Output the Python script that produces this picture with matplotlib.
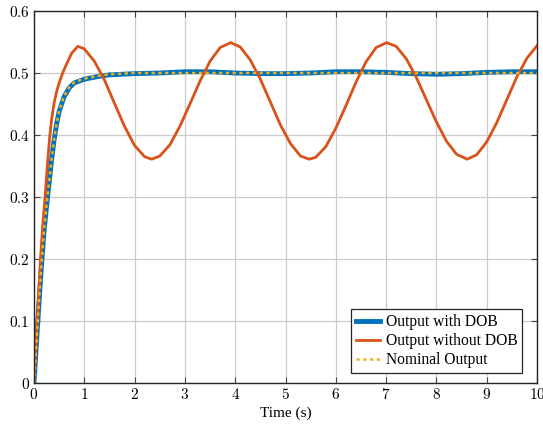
import numpy as np
import matplotlib.pyplot as plt
from matplotlib.ticker import FuncFormatter

plt.rcParams['font.family'] = 'Liberation Serif'
plt.rcParams['mathtext.fontset'] = 'cm'

# Output with DOB
t_dob = [0, 0.05, 0.1, 0.15, 0.2, 0.25, 0.3, 0.35, 0.4, 0.45, 0.5, 0.6, 0.7,
         0.8, 1.0, 1.25, 1.5, 2.0, 2.5, 3.0, 3.5, 4.0, 4.5, 5.0, 5.5, 6.0, 6.5,
         7.0, 7.5, 8.0, 8.5, 9.0, 9.5, 10.0]
y_dob = [0, 0.065, 0.13, 0.19, 0.245, 0.285, 0.322, 0.36, 0.392, 0.418, 0.438,
         0.462, 0.476, 0.484, 0.49, 0.494, 0.497, 0.499, 0.5, 0.502, 0.502,
         0.5, 0.499, 0.499, 0.5, 0.502, 0.502, 0.501, 0.499, 0.498, 0.499,
         0.501, 0.502, 0.502]

# Output without DOB
t_no = [0, 0.066, 0.13, 0.17, 0.22, 0.27, 0.31, 0.35, 0.4, 0.45, 0.5, 0.57,
        0.65, 0.75, 0.87, 1.0, 1.2, 1.4, 1.6, 1.8, 2.0, 2.2, 2.34, 2.5, 2.7,
        2.9, 3.1, 3.3, 3.5, 3.7, 3.91, 4.1, 4.3, 4.5, 4.7, 4.9, 5.1, 5.3,
        5.47, 5.6, 5.8, 6.0, 6.2, 6.4, 6.6, 6.8, 7.01, 7.2, 7.4, 7.6, 7.8,
        8.0, 8.2, 8.4, 8.61, 8.8, 9.0, 9.2, 9.4, 9.6, 9.8, 10.0]
y_no = [0, 0.1, 0.2, 0.25, 0.3, 0.355, 0.395, 0.425, 0.452, 0.47, 0.484, 0.5,
        0.515, 0.532, 0.543, 0.539, 0.519, 0.489, 0.451, 0.414, 0.383, 0.365,
        0.361, 0.366, 0.384, 0.414, 0.45, 0.487, 0.519, 0.541, 0.549, 0.542,
        0.521, 0.49, 0.453, 0.416, 0.386, 0.366, 0.361, 0.364, 0.381, 0.411,
        0.447, 0.485, 0.518, 0.541, 0.549, 0.543, 0.523, 0.493, 0.457, 0.421,
        0.39, 0.369, 0.361, 0.368, 0.389, 0.42, 0.457, 0.494, 0.524, 0.544]

# Nominal output
t_nom = [0, 0.05, 0.1, 0.15, 0.2, 0.25, 0.3, 0.35, 0.4, 0.45, 0.5, 0.6, 0.7,
         0.8, 1.0, 1.25, 1.5, 2.0, 3.0, 10.0]
y_nom = [0, 0.066, 0.132, 0.192, 0.246, 0.287, 0.324, 0.361, 0.393, 0.419,
         0.439, 0.463, 0.477, 0.485, 0.491, 0.495, 0.498, 0.5, 0.5, 0.5]

fig = plt.figure(figsize=(5.43, 4.25), dpi=100)
ax = fig.add_axes([0.0626, 0.0988, 0.9264, 0.8753])

ax.plot(t_dob, y_dob, color='#0072BD', lw=3.5, label='Output with DOB')
ax.plot(t_no, y_no, color='#D95319', lw=2.0, label='Output without DOB')
ax.plot(t_nom, y_nom, color='#EDB120', lw=1.8, ls=(0, (1.3, 1.4)),
        label='Nominal Output')

ax.set_xlim(0, 10)
ax.set_ylim(0, 0.6)
ax.set_xticks(range(0, 11))
ax.set_yticks([0, 0.1, 0.2, 0.3, 0.4, 0.5, 0.6])
ax.xaxis.set_major_formatter(FuncFormatter(lambda v, p: f'${v:g}$'))
ax.yaxis.set_major_formatter(FuncFormatter(lambda v, p: f'${v:g}$'))
ax.tick_params(direction='in', top=True, right=True, labelsize=11,
               length=4, color='#444444', pad=3)
ax.grid(True, color='#cccccc', lw=0.9)
ax.set_axisbelow(True)
for s in ax.spines.values():
    s.set_color('#262626')
    s.set_linewidth(1.0)

ax.set_xlabel('Time (s)', fontsize=11, labelpad=3)
leg = ax.legend(loc='lower right', bbox_to_anchor=(0.970, 0.027),
                borderaxespad=0, fontsize=11.2, fancybox=False,
                edgecolor='#262626', framealpha=1, handlelength=1.55,
                handletextpad=0.35, labelspacing=0.2, borderpad=0.3)
leg.get_frame().set_linewidth(0.9)

fig.savefig('out.png', dpi=100)
